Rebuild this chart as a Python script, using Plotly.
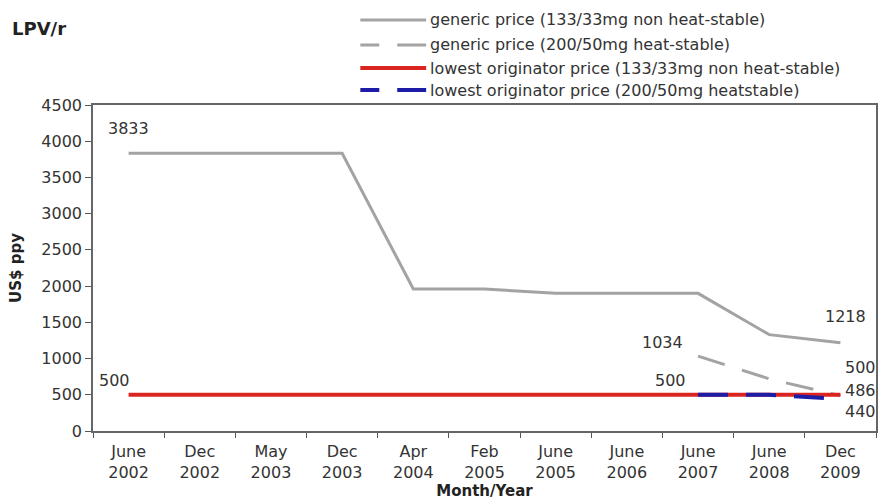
import plotly.graph_objects as go

categories = ["June<br>2002", "Dec<br>2002", "May<br>2003", "Dec<br>2003", "Apr<br>2004",
              "Feb<br>2005", "June<br>2005", "June<br>2006", "June<br>2007", "June<br>2008", "Dec<br>2009"]

generic_nhs = [3833, 3833, 3833, 3833, 1960, 1960, 1900, 1900, 1900, 1330, 1218]
generic_hs = [None, None, None, None, None, None, None, None, 1034, 720, 486]
orig_nhs = [500, 500, 500, 500, 500, 500, 500, 500, 500, 500, 500]
orig_hs = [None, None, None, None, None, None, None, None, 500, 500, 440]

names = ["generic price (133/33mg non heat-stable)",
         "generic price (200/50mg heat-stable)",
         "lowest originator price (133/33mg non heat-stable)",
         "lowest originator price (200/50mg heatstable)"]

GRAY = "#a3a3a3"
RED = "#da2420"
BLUE = "#1c1ca6"
TXT = "#333333"
FONT = "DejaVu Sans"
FS = 16

fig = go.Figure()
fig.add_trace(go.Scatter(x=categories, y=generic_nhs, mode="lines", name=names[0],
                         line=dict(color=GRAY, width=3)))
fig.add_trace(go.Scatter(x=categories, y=generic_hs, mode="lines", name=names[1],
                         line=dict(color=GRAY, width=3, dash="28px,18px")))
fig.add_trace(go.Scatter(x=categories, y=orig_nhs, mode="lines", name=names[2],
                         line=dict(color=RED, width=4)))
fig.add_trace(go.Scatter(x=categories, y=orig_hs, mode="lines", name=names[3],
                         line=dict(color=BLUE, width=4, dash="30px,18px")))

# data labels
labels = [
    (categories[0], generic_nhs[0], "3833", 0, 25),
    (categories[0], orig_nhs[0], "500", -14, 14),
    (categories[8], orig_nhs[8], "500", -28, 14),
    (categories[8], generic_hs[8], "1034", -36, 14),
    (categories[10], generic_nhs[10], "1218", 5, 26),
    (categories[10], orig_nhs[10], "500", 20, 27),
    (categories[10], generic_hs[10], "486", 20, 5),
    (categories[10], orig_hs[10], "440", 20, -12),
]
for x, y, t, xs, ys in labels:
    fig.add_annotation(x=x, y=y, text=t, showarrow=False, xshift=xs, yshift=ys,
                       font=dict(family=FONT, size=FS, color=TXT))

# manual legend (positions given in page pixels, converted to paper coords)
PL, PR, PT, PB = 93, 878, 105, 431
def px(x):
    return (x - PL) / (PR - PL)
def py(y):
    return (PB - y) / (PB - PT)

leg_colors = [GRAY, GRAY, RED, BLUE]
leg_dashed = [False, True, False, True]
leg_width = [3, 3, 4, 4]
leg_y = [20, 45, 68, 90]
for i in range(4):
    yp = py(leg_y[i])
    segs = [(361, 427)] if not leg_dashed[i] else [(361, 380), (398, 427)]
    for a, b in segs:
        fig.add_shape(type="line", xref="paper", yref="paper", x0=px(a), x1=px(b), y0=yp, y1=yp,
                      line=dict(color=leg_colors[i], width=leg_width[i]))
    fig.add_annotation(xref="paper", yref="paper", x=px(429), y=yp,
                       xanchor="left", yanchor="middle", text=names[i], showarrow=False,
                       font=dict(family=FONT, size=FS, color=TXT))

fig.add_annotation(xref="paper", yref="paper", x=px(10), y=py(28),
                   xanchor="left", yanchor="middle", text="<b>LPV/r</b>", showarrow=False,
                   font=dict(family=FONT, size=18, color="#222"))

fig.update_layout(
    width=881, height=502,
    margin=dict(l=PL, r=881 - PR, t=PT, b=502 - PB),
    paper_bgcolor="white", plot_bgcolor="white",
    showlegend=False,
    font=dict(family=FONT, size=FS, color=TXT),
    xaxis=dict(type="category", range=[-0.5, 10.5], tickson="boundaries", ticks="outside",
               ticklen=5, tickcolor="#555", showline=True, linecolor="#666", linewidth=1.5,
               mirror=True, showgrid=False, tickfont=dict(size=FS), ticklabelstandoff=5,
               title=dict(text="<b>Month/Year</b>", font=dict(size=15, color="#222"), standoff=2)),
    yaxis=dict(range=[0, 4500], dtick=500, ticks="outside", ticklen=6, tickcolor="#555",
               showline=True, linecolor="#666", linewidth=1.5, mirror=True, showgrid=False,
               zeroline=False, tickfont=dict(size=FS),
               title=dict(text="<b>US$ ppy</b>", font=dict(size=15, color="#222"), standoff=16)),
)

fig.write_html("out.html",
               config={"displayModeBar": False},
               post_script="document.body.style.margin='0';document.body.style.overflow='hidden';")
